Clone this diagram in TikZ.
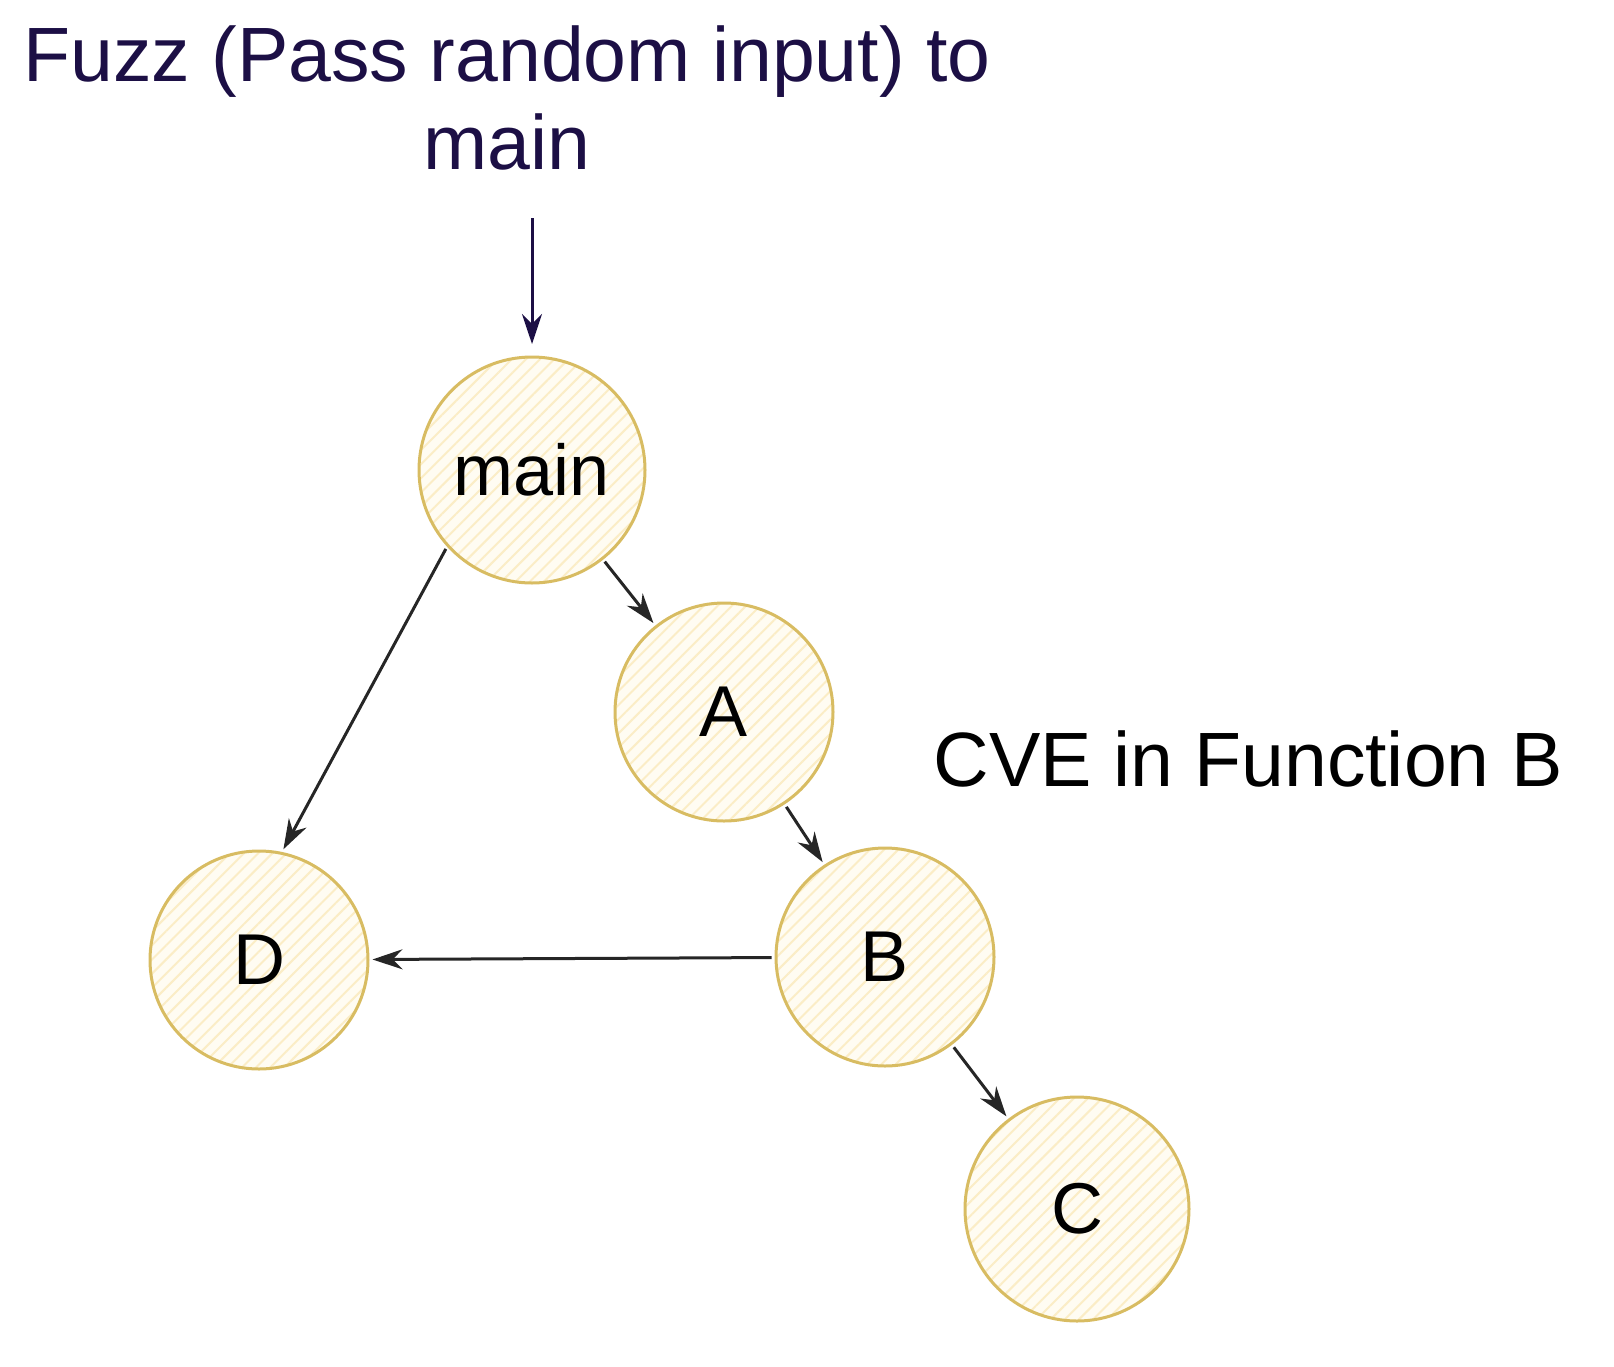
\documentclass[tikz,border=0pt]{standalone}
\usepackage{fontspec}
\setmainfont{Liberation Sans}
\usetikzlibrary{arrows.meta,patterns.meta}
\definecolor{ringc}{HTML}{D8BC62}
\definecolor{fillc}{HTML}{FFFCF2}
\definecolor{hatchc}{HTML}{FBEDC6}
\definecolor{titlec}{HTML}{1C0F45}
\begin{document}
\begin{tikzpicture}[x=1pt,y=-1pt,
    fn/.style={circle,draw=ringc,line width=3pt,minimum size=218pt,inner sep=0pt,
      preaction={fill=fillc},pattern={Lines[angle=45,distance=10pt,line width=2pt]},pattern color=hatchc,
      font=\fontsize{72}{72}\selectfont},
    call/.style={-{Stealth[length=30pt,width=20pt]},line width=3pt,black!85,shorten <=3pt,shorten >=3pt}]
    \useasboundingbox (0,0) rectangle (1614,1366);
    \node[align=center,text=titlec,font=\fontsize{77}{88}\selectfont,inner sep=0pt] (title) at (507,98) {Fuzz (Pass random input) to\\main};
    \node[font=\fontsize{77}{77}\selectfont,inner sep=0pt] (cve) at (1248,759) {CVE in Function B};
    \coordinate (fuzz) at (532,218);

    \node[fn,minimum size=226pt] (main) at (532,470) {main};
    \node[fn] (fa) at (724,712) {A};
    \node[fn] (fb) at (885,957) {B};
    \node[fn] (fd) at (259,960) {D};
    \node[fn,minimum size=224pt] (fc) at (1077,1209) {C};

    \draw[-{Stealth[length=30pt,width=20pt]},line width=3pt,titlec,shorten >=12pt] (fuzz) to (main);
    \draw[call] (main) to (fa);
    \draw[call] (fa) to (fb);
    \draw[call] (fb) to (fc);
    \draw[call] (main.222) to (fd.78);
    \draw[call] (fb) to (fd);
\end{tikzpicture}
\end{document}
